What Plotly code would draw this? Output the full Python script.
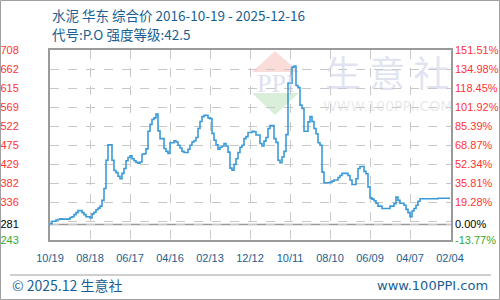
import plotly.graph_objects as go

# ---- data ----
prices = [
    283, 289, 289, 292, 293, 295, 294, 294, 294, 294,
    298, 300, 305, 310, 315, 315, 310, 305, 300, 300,
    297, 307, 311, 317, 321, 326, 340, 369, 438, 476,
    476, 438, 413, 408, 399, 393, 406, 418, 437, 445,
    449, 442, 437, 433, 431, 434, 453, 454, 466, 509,
    526, 538, 542, 551, 510, 491, 491, 467, 460, 455,
    481, 481, 486, 483, 475, 468, 460, 457, 457, 465,
    475, 483, 486, 494, 516, 533, 545, 548, 548, 542,
    540, 504, 487, 476, 465, 470, 473, 479, 473, 458,
    419, 414, 428, 442, 457, 470, 475, 491, 496, 506,
    506, 509, 508, 500, 500, 479, 473, 485, 494, 516,
    523, 523, 491, 482, 438, 432, 446, 460, 501, 627,
    627, 666, 669, 621, 616, 573, 565, 509, 509, 532,
    545, 533, 516, 503, 481, 475, 409, 383, 383, 383,
    384, 387, 390, 390, 396, 401, 406, 406, 406, 401,
    390, 379, 379, 393, 418, 423, 423, 411, 405, 373,
    346, 343, 339, 333, 326, 326, 320, 320, 320, 320,
    326, 326, 332, 348, 340, 333, 333, 328, 318, 310,
    300, 314, 320, 328, 338, 344, 344, 344, 344, 344,
    344, 344, 344, 344, 345, 345, 345, 345, 345, 345,
    345,
]
x_idx = list(range(len(prices)))

date_labels = ["10/19", "08/18", "06/17", "04/16", "02/13", "12/12",
               "10/11", "08/10", "06/09", "04/07", "02/04"]
date_tick_pos = [0, 20, 40, 60, 80, 100, 120, 140, 160, 180, 200]

y_tick_vals = [243, 281, 289.5, 336, 382.5, 429, 475.5, 522, 568.5, 615, 661.5, 708]
y_left_text = ["243", "281", "", "336", "382", "429", "475", "522", "569", "615", "662", "708"]
y_right_text = ["-13.77%", "0.00%", "", "19.28%", "35.81%", "52.34%", "68.87%",
                "85.39%", "101.92%", "118.45%", "134.98%", "151.51%"]
base_price = 281
y_min, y_max = 243, 708

title_line1 = "水泥 华东 综合价 2016-10-19 - 2025-12-16"
title_line2 = "代号:P.O 强度等级:42.5"
footer_left = "© 2025.12 生意社"
footer_right = "www.100PPI.com"

# ---- styling ----
RED = "#ff3333"
GREEN = "#33aa33"
BLACK = "#000000"
BLUE_TXT = "#1a5f93"
LINE = "#3a9ad8"
GRID = "#c8c8c8"
BORDER = "#9a9a9a"

def colored(labels, vals):
    out = []
    for t, v in zip(labels, vals):
        if t == "":
            out.append("")
        elif v > base_price + 1:
            out.append(f"<span style='color:{RED}'>{t}</span>")
        elif v < base_price - 1:
            out.append(f"<span style='color:{GREEN}'>{t}</span>")
        else:
            out.append(f"<span style='color:{BLACK}'>{t}</span>")
    return out

L, R, T, B = 50, 49, 50, 60
W, H = 500, 300
PW, PH = W - L - R, H - T - B

def px(X):
    return (X - L) / PW

def py(Y):
    return (H - B - Y) / PH

fig = go.Figure()
fig.add_trace(go.Scatter(x=x_idx, y=prices, mode="lines", line=dict(color=LINE, width=1.6, shape="hv"),
                         hoverinfo="skip", showlegend=False))
fig.add_trace(go.Scatter(x=[x_idx[0]], y=[prices[0]], yaxis="y2", mode="markers",
                         marker=dict(opacity=0), hoverinfo="skip", showlegend=False))

tickfont = dict(family="Liberation Sans, Arial, sans-serif", size=11)

fig.update_layout(
    width=W, height=H,
    margin=dict(l=L, r=R, t=T, b=B, autoexpand=False),
    paper_bgcolor="white", plot_bgcolor="white",
    xaxis=dict(range=[0, 200.5], tickvals=date_tick_pos, ticktext=date_labels,
               showgrid=True, gridcolor=GRID, griddash="dash", gridwidth=1,
               showline=True, linecolor=BORDER, linewidth=2, mirror=True,
               zeroline=False, ticks="", tickfont=dict(color=BLUE_TXT, **tickfont),
               ticklabelstandoff=7, automargin=False),
    yaxis=dict(range=[y_min, y_max], tickvals=y_tick_vals, ticktext=colored(y_left_text, y_tick_vals),
               showgrid=True, gridcolor=GRID, griddash="dash", gridwidth=1,
               showline=True, linecolor=BORDER, linewidth=2, mirror=True,
               zeroline=False, ticks="", tickfont=tickfont, ticklabelstandoff=27,
               automargin=False),
    yaxis2=dict(range=[y_min, y_max], overlaying="y", side="right", tickvals=y_tick_vals,
                ticktext=colored(y_right_text, y_tick_vals), showgrid=False, zeroline=False,
                showline=False, ticks="", tickfont=tickfont, ticklabelstandoff=3,
                automargin=False),
)

shapes = []
# baseline at base price
shapes.append(dict(type="line", xref="paper", x0=0, x1=1, yref="y", y0=base_price, y1=base_price,
                   line=dict(color=BORDER, width=1.5), layer="below"))
# watermark logo
shapes.append(dict(type="path", xref="paper", yref="paper",
                   path=f"M {px(252)} {py(72)} L {px(275)} {py(51)} L {px(299)} {py(72)} Z",
                   fillcolor="rgba(245,180,170,0.45)", line=dict(width=0), layer="below"))
shapes.append(dict(type="path", xref="paper", yref="paper",
                   path=f"M {px(252)} {py(93)} L {px(275)} {py(115)} L {px(299)} {py(93)} Z",
                   fillcolor="rgba(170,220,170,0.45)", line=dict(width=0), layer="below"))
# outer frame and footer separator
shapes.append(dict(type="rect", xref="paper", yref="paper", x0=px(0.5), x1=px(499.5),
                   y0=py(299.5), y1=py(0.5), line=dict(color="#a0a0a0", width=1)))
shapes.append(dict(type="line", xref="paper", yref="paper", x0=px(10), x1=px(491),
                   y0=py(275), y1=py(275), line=dict(color="#a0a0a0", width=1)))
fig.update_layout(shapes=shapes)

cjk = "Noto Sans CJK SC, sans-serif"
ann = [
    dict(text=title_line1, x=px(50), y=py(15), xanchor="left", yanchor="middle",
         font=dict(family=cjk, size=13.5, color=BLUE_TXT)),
    dict(text=title_line2, x=px(50), y=py(34), xanchor="left", yanchor="middle",
         font=dict(family=cjk, size=13.5, color=BLUE_TXT)),
    dict(text=footer_left, x=px(10), y=py(285), xanchor="left", yanchor="middle",
         font=dict(family=cjk, size=14, color=BLUE_TXT)),
    dict(text=footer_right, x=px(490), y=py(285), xanchor="right", yanchor="middle",
         font=dict(family="DejaVu Sans, sans-serif", size=13, color=BLUE_TXT)),
    dict(text="PPI", x=px(276), y=py(83), xanchor="center", yanchor="middle",
         font=dict(family="Liberation Serif, serif", size=26, color="rgba(190,200,225,0.55)")),
    dict(text="生 意 社", x=px(387), y=py(71), xanchor="center", yanchor="middle",
         font=dict(family=cjk, size=36, color="rgba(195,202,226,0.5)")),
    dict(text="WWW.100PPI.COM", x=px(387), y=py(106), xanchor="center", yanchor="middle",
         font=dict(family="DejaVu Sans, sans-serif", size=14, color="rgba(215,215,215,0.55)")),
]
for a in ann:
    a.update(xref="paper", yref="paper", showarrow=False)
fig.update_layout(annotations=ann)

fig.write_html("out.html")
